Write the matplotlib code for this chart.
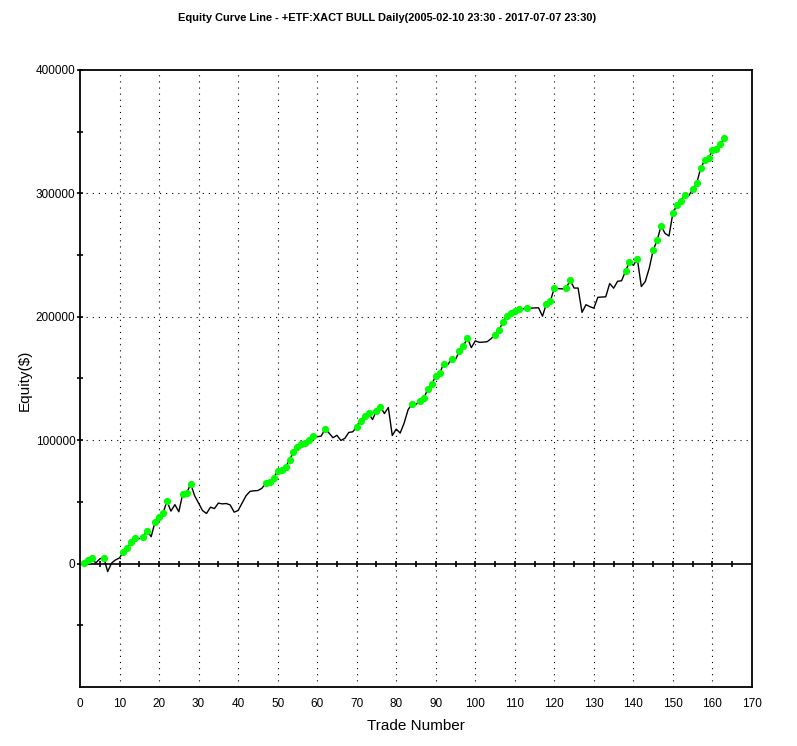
import matplotlib
matplotlib.use('Agg')
import matplotlib.pyplot as plt
import numpy as np

# equity after each closed trade (trade 1 .. 163), in $
equity = [800, 3300, 4300, 500, 3800, 4900, -6500, 500, 3000, 4600,
          9700, 13000, 17800, 20400, 20200, 21900, 26600, 21800, 33900, 38000,
          41000, 50500, 42500, 47800, 42000, 56600, 57200, 64600, 55000, 49000,
          43000, 40600, 45700, 44600, 49000, 48400, 48700, 47500, 41700, 43000,
          49000, 55000, 58500, 59000, 59200, 61000, 65000, 66500, 69700, 75000,
          76000, 78400, 84000, 90500, 94600, 97000, 97800, 100500, 103500, 102800,
          103300, 109000, 105800, 102000, 104000, 99800, 101500, 106300, 106800, 110800,
          115600, 120000, 122000, 116700, 123800, 127200, 121600, 126500, 103800, 109000,
          105800, 113900, 124700, 129400, 129000, 132000, 134200, 141500, 145600, 152000,
          154500, 161800, 161000, 165900, 165500, 172200, 176500, 182700, 175000, 180500,
          179300, 179500, 179800, 182300, 185400, 189300, 195800, 200600, 203200, 205000,
          206600, 206300, 207400, 207000, 207200, 207300, 200500, 210700, 213000, 223200,
          222800, 222600, 223500, 229500, 223300, 223300, 203600, 209800, 208200, 207000,
          215800, 216000, 216200, 227000, 223200, 228800, 229200, 237000, 244500, 241800,
          246800, 224500, 228600, 239300, 254000, 262000, 273600, 267600, 265500, 284300,
          290300, 294100, 298400, 298200, 303200, 308100, 320200, 326700, 328300, 334800,
          335600, 339700, 344500]
trades = np.arange(1, len(equity) + 1)

x_ticks = np.arange(0, 171, 10)
y_ticks = [0, 100000, 200000, 300000, 400000]
y_minor = [-50000, 50000, 150000, 250000, 350000]
zero_ticks = np.arange(5, 170, 5)

plt.rcParams['font.family'] = ['Liberation Sans', 'DejaVu Sans']

fig = plt.figure(figsize=(7.97, 7.46), dpi=100)
ax = fig.add_axes([80 / 797, 1 - 687 / 746, 672 / 797, 617 / 746])

# dotted grid
for gx in x_ticks[1:-1]:
    ax.axvline(gx, color='black', lw=0.8, ls=(0, (1, 4.5)), zorder=1)
for gy in y_ticks[1:-1]:
    ax.axhline(gy, color='black', lw=0.8, ls=(0, (1, 4.5)), zorder=1)

# zero line with its own little ticks
ax.axhline(0, color='black', lw=1.2, zorder=2)
ax.plot(zero_ticks, np.zeros(len(zero_ticks)), ls='none', marker='|', color='black',
        markersize=5, markeredgewidth=1.2, zorder=2)

# equity curve, green dots on new equity highs
eq = np.array(equity)
prev_max = np.maximum.accumulate(np.concatenate([[0], eq[:-1]]))
new_high = eq > prev_max
ax.plot(trades, eq, color='black', lw=1, zorder=3)
ax.plot(trades[new_high], eq[new_high], ls='none', marker='o', color='#00ff00',
        markersize=5.2, markeredgewidth=0, zorder=4)

ax.set_xlim(0, 170)
ax.set_ylim(-100000, 400000)
ax.set_xticks(x_ticks)
ax.set_xticklabels([str(v) for v in x_ticks])
ax.set_yticks(y_ticks)
ax.set_yticklabels([str(v) for v in y_ticks])
ax.set_yticks(y_minor, minor=True)
ax.tick_params(axis='x', length=0, pad=8, labelsize=8.5)
ax.tick_params(axis='y', which='both', direction='inout', length=4.5, width=1.2, pad=1, labelsize=8.5)

for s in ax.spines.values():
    s.set_linewidth(1.3)

fig.text(387 / 797, 1 - 18 / 746, 'Equity Curve Line - +ETF:XACT BULL Daily(2005-02-10 23:30 - 2017-07-07 23:30)',
         ha='center', va='center', fontsize=7.9, fontweight='bold',
         family=['Liberation Sans Narrow', 'Liberation Sans', 'DejaVu Sans'])
fig.text(25 / 797, 1 - 380 / 746, 'Equity($)', rotation=90, ha='center', va='center', fontsize=11)
fig.text(416 / 797, 1 - 726 / 746, 'Trade Number', ha='center', va='center', fontsize=11)

fig.savefig('out.png', dpi=100)
